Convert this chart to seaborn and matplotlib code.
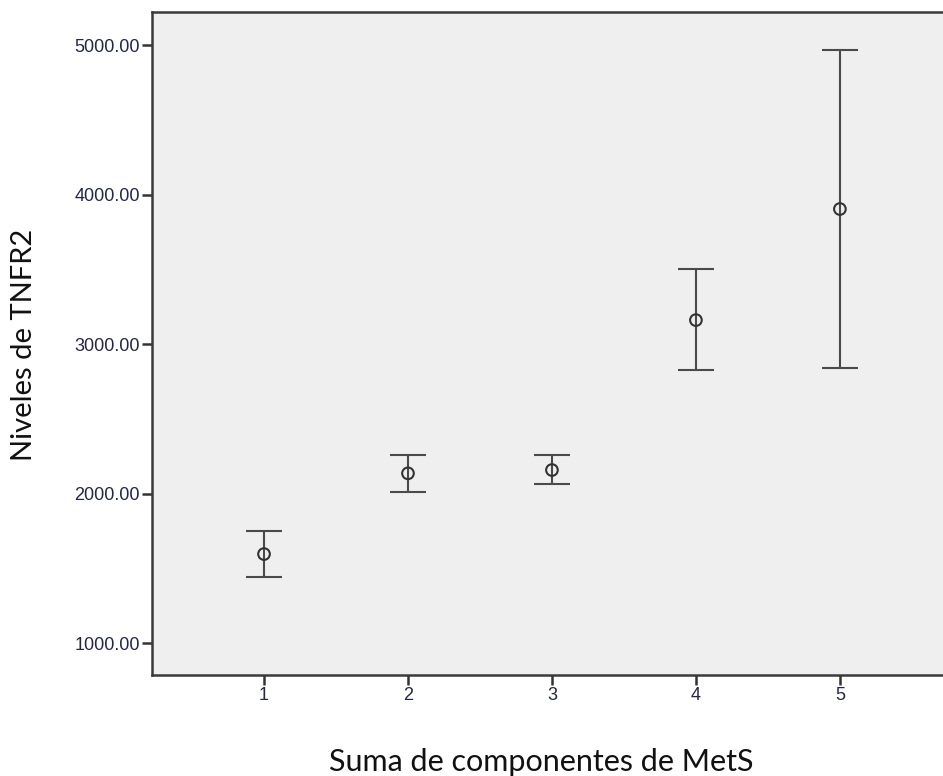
import matplotlib
matplotlib.use("Agg")
import matplotlib.pyplot as plt
import seaborn as sns
import pandas as pd

# Mean TNFR2 level and 95% CI bounds per number of MetS components
componentes = [1, 2, 3, 4, 5]
media = [1595, 2135, 2157, 3160, 3903]
ic_inferior = [1441, 2010, 2064, 2826, 2839]
ic_superior = [1749, 2260, 2260, 3502, 4967]
y_ticks = [1000, 2000, 3000, 4000, 5000]

df = pd.DataFrame({"componentes": componentes, "media": media,
                   "inf": ic_inferior, "sup": ic_superior})

sns.set_style("white")
plt.rcParams["font.family"] = ["Lato", "DejaVu Sans"]

fig = plt.figure(figsize=(9.43, 7.76), dpi=100)
ax = fig.add_axes([152 / 943, 101 / 776, (945 - 152) / 943, (675 - 12) / 776])
ax.set_facecolor("#efefef")

line_col = "#4a4a4a"
err_low = df["media"] - df["inf"]
err_high = df["sup"] - df["media"]
ax.errorbar(df["componentes"], df["media"], yerr=[err_low, err_high],
            fmt="none", ecolor=line_col, elinewidth=1.5, capsize=13,
            capthick=1.5, zorder=2)
sns.scatterplot(data=df, x="componentes", y="media", ax=ax, s=70,
                marker="o", facecolor="none", edgecolor="#333333",
                linewidth=1.5, zorder=3)
ax.set_xlabel("")
ax.set_ylabel("")

ax.set_xlim(0.222, 5.73)
ax.set_ylim(786, 5221)
ax.set_xticks(componentes)
ax.set_xticklabels([str(c) for c in componentes])
ax.set_yticks(y_ticks)
ax.set_yticklabels([f"{v:.2f}" for v in y_ticks])

tick_col = "#22264a"
ax.tick_params(axis="both", which="major", direction="out", length=7.2,
               width=1.8, color="#333333", labelsize=13, labelcolor=tick_col,
               left=True, bottom=True, pad=1.5)
for lbl in ax.get_xticklabels() + ax.get_yticklabels():
    lbl.set_fontfamily("Liberation Sans")

for side in ["left", "bottom", "top"]:
    ax.spines[side].set_visible(True)
    ax.spines[side].set_color("#3a3a3a")
    ax.spines[side].set_linewidth(1.8)
ax.spines["right"].set_visible(False)

fig.text(541 / 943, 1 - 771 / 776, "Suma de componentes de MetS",
         fontsize=22, color="#111111", ha="center", va="baseline")
fig.text(24 / 943, 1 - 345 / 776, "Niveles de TNFR2", fontsize=21,
         color="#111111", ha="center", va="center", rotation=90)

fig.savefig("out.png", dpi=100, facecolor="white")
